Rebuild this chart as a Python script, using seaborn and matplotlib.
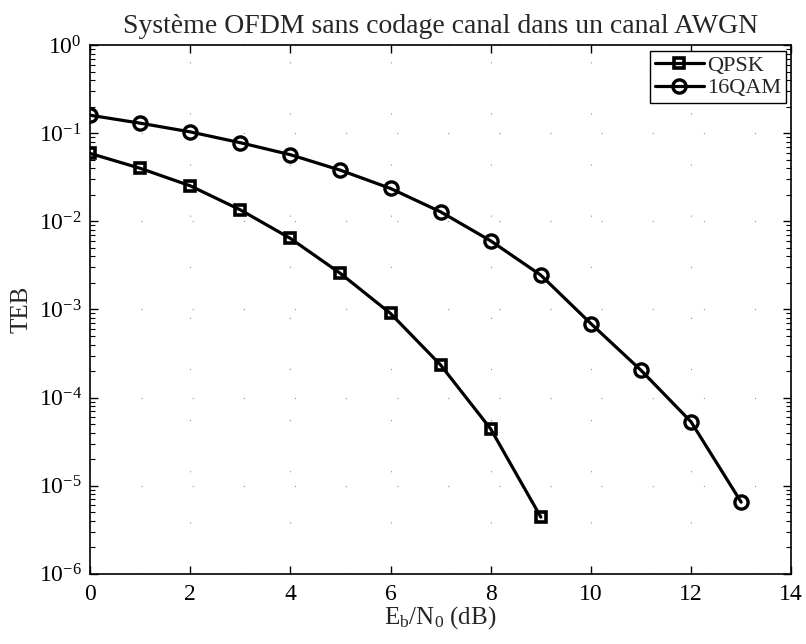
import numpy as np
import pandas as pd
import seaborn as sns
import matplotlib.pyplot as plt
from matplotlib.ticker import FixedLocator, LogLocator, NullFormatter

ebn0_qpsk = [0, 1, 2, 3, 4, 5, 6, 7, 8, 9]
teb_qpsk = [0.059, 0.040, 0.0253, 0.0135, 0.0064, 0.00256, 0.00090, 2.34e-4, 4.4e-5, 4.4e-6]

ebn0_16qam = [0, 1, 2, 3, 4, 5, 6, 7, 8, 9, 10, 11, 12, 13]
teb_16qam = [0.160, 0.130, 0.1035, 0.078, 0.057, 0.038, 0.0236, 0.0128, 0.0060,
             0.00245, 6.9e-4, 2.04e-4, 5.3e-5, 6.5e-6]

y_ticks = [1e-6, 1e-5, 1e-4, 1e-3, 1e-2, 1e-1, 1]

df = pd.concat([
    pd.DataFrame({'ebn0': ebn0_qpsk, 'teb': teb_qpsk, 'mod': 'QPSK'}),
    pd.DataFrame({'ebn0': ebn0_16qam, 'teb': teb_16qam, 'mod': '16QAM'}),
], ignore_index=True)

sns.set_style("ticks")
plt.rcParams['font.family'] = ['Liberation Serif', 'DejaVu Serif']
plt.rcParams['mathtext.fontset'] = 'custom'
plt.rcParams['mathtext.rm'] = 'Liberation Serif'
plt.rcParams['mathtext.it'] = 'Liberation Serif:italic'

fig = plt.figure(figsize=(8.06, 6.44), dpi=100)
ax = fig.add_axes([0.1117, 0.109, 0.870, 0.821])

sns.lineplot(data=df[df['mod'] == 'QPSK'], x='ebn0', y='teb', label='QPSK',
             color='black', marker='s', linewidth=2.3, markersize=7.5,
             markerfacecolor='none', markeredgewidth=2.6, markeredgecolor='black', ax=ax)
sns.lineplot(data=df[df['mod'] == '16QAM'], x='ebn0', y='teb', label='16QAM',
             color='black', marker='o', linewidth=2.3, markersize=9.5,
             markerfacecolor='none', markeredgewidth=2.4, markeredgecolor='black', ax=ax)

ax.set_yscale('log')
ax.set_xlim(0, 14)
ax.set_ylim(1e-6, 1)
ax.set_xticks(range(0, 15, 2))
ax.yaxis.set_major_locator(FixedLocator(y_ticks))
ax.yaxis.set_minor_locator(LogLocator(base=10, subs=np.arange(2, 10), numticks=10))
ax.yaxis.set_minor_formatter(NullFormatter())

ax.tick_params(axis='both', which='both', direction='in', top=True, right=True,
               labelsize=17, colors='black')
ax.tick_params(axis='x', pad=7)
ax.tick_params(axis='y', pad=6)
ax.tick_params(which='major', length=6, width=1)
ax.tick_params(which='minor', length=3.5, width=0.8)
for s in ax.spines.values():
    s.set_color('black')
    s.set_linewidth(1.2)

# the scanned dotted grid is barely visible
ax.grid(True, which='major', color='black', linestyle=(0, (1, 45)), linewidth=0.8, alpha=0.45)

ax.set_title('Système OFDM sans codage canal dans un canal AWGN', fontsize=20, pad=9)
ax.set_xlabel(r'$\mathrm{E_b/N_0}$ (dB)', fontsize=18, labelpad=0)
ax.set_ylabel('TEB', fontsize=18, labelpad=4)

leg = ax.legend(loc='upper right', fontsize=16, frameon=True, fancybox=False,
                edgecolor='black', framealpha=1, handlelength=2.2, handletextpad=0.15,
                borderpad=0.2, labelspacing=0.1, borderaxespad=0.25)
leg.get_frame().set_linewidth(1.0)

fig.savefig('out.png', dpi=100)
